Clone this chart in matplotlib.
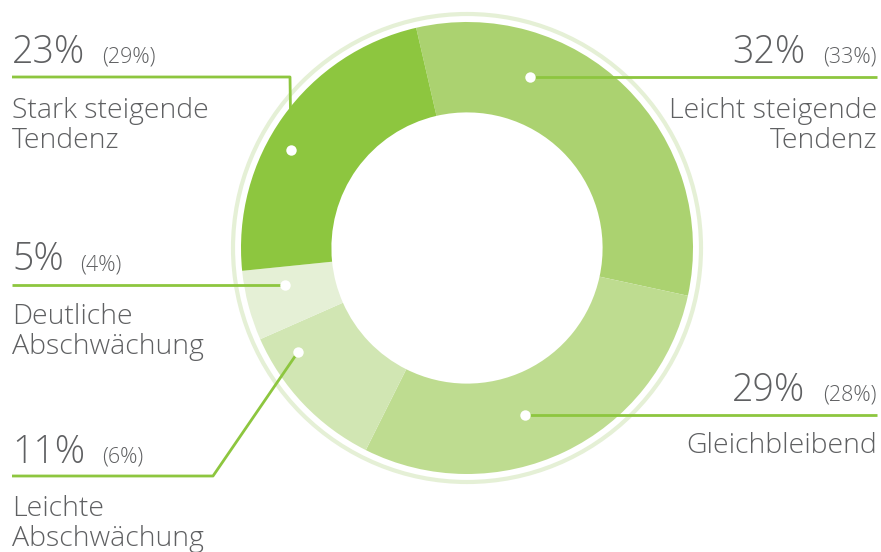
import matplotlib
matplotlib.use("Agg")
import matplotlib.pyplot as plt
from matplotlib.patches import Circle

W, H = 881, 552

# shares in percent, clockwise from the top
categories = ["Leicht steigende\nTendenz", "Gleichbleibend", "Leichte\nAbschwächung",
              "Deutliche\nAbschwächung", "Stark steigende\nTendenz"]
values = [32, 29, 11, 5, 23]
previous = [33, 28, 6, 4, 29]
colors = ["#abd270", "#bedc90", "#d1e6b3", "#e5f0d6", "#8dc63f"]

# label layout in pixels from top-left: side, x, number baseline, last label baseline, leader path
layout = [
    ("right", 877, 63, 148, [(530, 77), (877, 77)]),
    ("right", 877, 401, 453, [(525, 415), (877, 415)]),
    ("left", 12, 463, 546, [(298, 352), (213, 476), (12, 476)]),
    ("left", 12, 270, 354, [(285, 285), (12, 285)]),
    ("left", 12, 63, 148, [(291, 150), (290, 77), (12, 77)]),
]

plt.rcParams['font.family'] = ['Open Sans', 'DejaVu Sans']
text_col = "#5f6062"
line_col = "#8dc63f"

fig = plt.figure(figsize=(W / 100, H / 100), dpi=100)
ax = fig.add_axes([0, 0, 1, 1])

cx, cy, r = 467, H - 248, 226
ax.pie(values, colors=colors, startangle=103, counterclock=False,
       radius=r, center=(cx, cy),
       wedgeprops=dict(width=r * 0.4, linewidth=0))
ax.add_patch(Circle((cx, cy), 234, fill=False, ec="#e5f0d6", lw=3.0))

for cat, val, prev, (side, x, nb, lb, path) in zip(categories, values, previous, layout):
    xs = [p[0] for p in path]
    ys = [H - p[1] for p in path]
    ax.plot(xs, ys, color=line_col, lw=2.0, solid_capstyle="butt", zorder=3)
    ax.plot(xs[0], ys[0], "o", ms=7.5, mfc="white", mec="none", zorder=4)

    if side == "left":
        ax.text(x, H - nb, f"{val}%", ha="left", va="baseline", fontsize=27,
                color=text_col, fontweight="light")
        small_x = x + (90 if val >= 10 else 68)
        ax.text(small_x, H - nb, f"({prev}%)", ha="left", va="baseline", fontsize=15.5,
                color=text_col, fontweight="light")
        ax.text(x, H - lb, cat, ha="left", va="baseline", fontsize=20.5,
                color=text_col, fontweight="light", linespacing=1.1)
    else:
        ax.text(x, H - nb, f"({prev}%)", ha="right", va="baseline", fontsize=15.5,
                color=text_col, fontweight="light")
        ax.text(x - 72, H - nb, f"{val}%", ha="right", va="baseline", fontsize=27,
                color=text_col, fontweight="light")
        ax.text(x, H - lb, cat, ha="right", va="baseline", fontsize=20.5,
                color=text_col, fontweight="light", linespacing=1.1,
                multialignment="right")

ax.set_xlim(0, W)
ax.set_ylim(0, H)
ax.set_aspect("equal")
ax.set_axis_off()

fig.savefig("out.png", dpi=100)
